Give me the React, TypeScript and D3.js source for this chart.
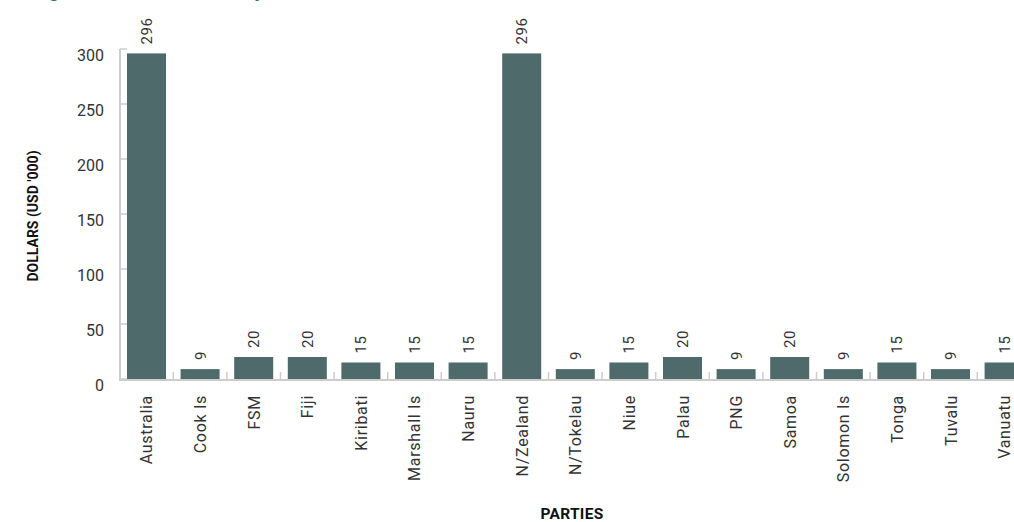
import React from "react";
import * as d3 from "d3";

const categories = ["Australia","Cook Is","FSM","Fiji","Kiribati","Marshall Is","Nauru","N/Zealand","N/Tokelau","Niue","Palau","PNG","Samoa","Solomon Is","Tonga","Tuvalu","Vanuatu"];
const values = [296,9,20,20,15,15,15,296,9,15,20,9,20,9,15,9,15];
const yTicks = [0,50,100,150,200,250,300];
const titleText = "Figure 3: Contributions by Members";
const yTitle = "DOLLARS (USD '000)";
const xTitle = "PARTIES";

const W = 1014, H = 522;
const BAR = "#4e6a6a";
const AXIS = "#cccccc";
const TXT = "#333333";
const FONT = "Roboto, 'DejaVu Sans', sans-serif";

export default function App() {
  const x = d3.scaleBand<string>().domain(categories).range([119, 1031.6]).paddingInner(0.272).paddingOuter(0.149);
  const y = d3.scaleLinear().domain([0, 300]).range([379, 49]);
  const bw = x.bandwidth();
  const gap = x.step() - bw;
  const y0 = y(0);
  return (
    <svg width={W} height={H} style={{ position: "absolute", left: 0, top: 0, background: "#fff" }} fontFamily={FONT}>
      <text x={32} y={-3} fill="#3f6e6e" fontWeight="bold" fontSize={20}>{titleText}</text>
      {/* y axis */}
      <line x1={120} x2={120} y1={y(300)} y2={y0 + 1} stroke={AXIS} strokeWidth={2} />
      {yTicks.map(t => (
        <g key={t}>
          <line x1={120} x2={127} y1={y(t)} y2={y(t)} stroke={AXIS} strokeWidth={1.5} />
          <text x={104} y={y(t) + 12} textAnchor="end" fontSize={16} fill={TXT}>{t}</text>
        </g>
      ))}
      {/* bars */}
      {categories.map((c, i) => (
        <rect key={c} x={x(c)} y={y(values[i])} width={bw} height={y0 - y(values[i])} fill={BAR} />
      ))}
      {/* x axis */}
      <line x1={119} x2={W} y1={y0 + 1} y2={y0 + 1} stroke={AXIS} strokeWidth={2} />
      {categories.slice(1).map(c => (
        <line key={c} x1={(x(c) as number) - gap / 2} x2={(x(c) as number) - gap / 2} y1={y0 - 7} y2={y0} stroke={AXIS} strokeWidth={1.5} />
      ))}
      {/* value labels */}
      {categories.map((c, i) => {
        const cx = (x(c) as number) + bw / 2 + 5.5;
        const cy = y(values[i]) - 9;
        return (
          <text key={c} transform={`translate(${cx},${cy}) rotate(-90)`} fontSize={15} letterSpacing={0.5} fill={TXT}>{values[i]}</text>
        );
      })}
      {/* category labels */}
      {categories.map(c => {
        const cx = (x(c) as number) + bw / 2 + 6;
        return (
          <text key={c} transform={`translate(${cx},395) rotate(-90)`} textAnchor="end" fontSize={16} letterSpacing={0.7} fill={TXT}>{c}</text>
        );
      })}
      <text transform={`translate(38,216) rotate(-90)`} textAnchor="middle" fontSize={14} fontWeight="bold" fill="#111">{yTitle}</text>
      <text x={572} y={519} textAnchor="middle" fontSize={15.5} fontWeight="bold" letterSpacing={0.3} fill="#111">{xTitle}</text>
    </svg>
  );
}
